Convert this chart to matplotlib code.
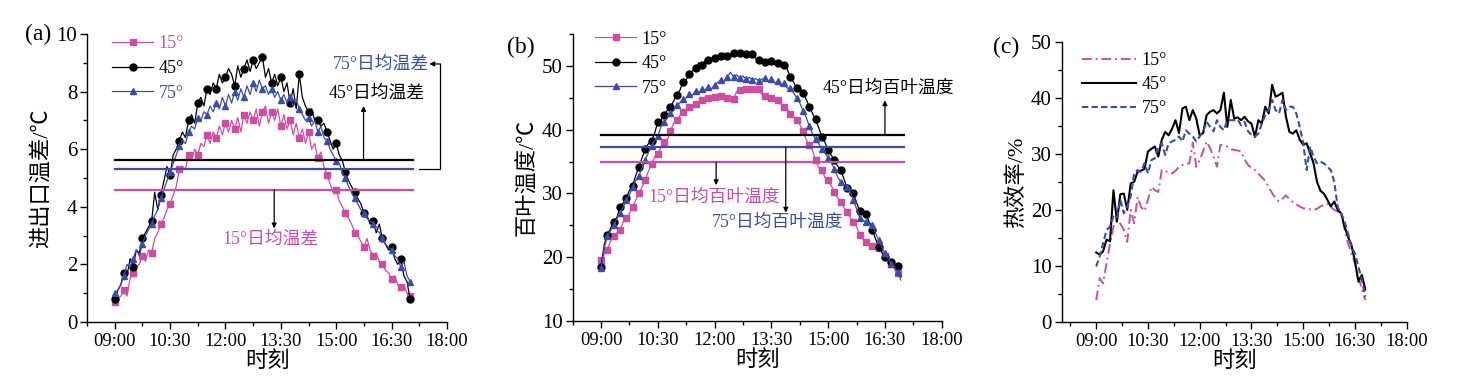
import numpy as np
import matplotlib.pyplot as plt
from matplotlib.lines import Line2D

plt.rcParams['font.family'] = ['Liberation Serif', 'Noto Sans CJK SC']
plt.rcParams['axes.unicode_minus'] = False

pink = '#CF4DA0'
blue = '#3A4BB0'
black = 'black'

# ---- (a) inlet/outlet temperature difference, every 5 min from 09:00 ----
min_a = np.arange(0, 485, 5)
dt_15 = [0.7, 0.8, 0.9, 1.1, 0.9, 1.5, 1.7, 1.9, 2.0, 2.3, 2.1, 2.5, 2.4, 2.9, 3.1, 3.4,
         3.6, 3.9, 4.1, 4.4, 4.7, 5.3, 5.4, 5.3, 5.8, 5.6, 6.0, 5.8, 6.2, 6.1, 6.5, 6.2,
         6.6, 6.4, 6.8, 6.5, 6.9, 6.6, 7.0, 6.7, 7.1, 6.6, 7.2, 6.9, 7.3, 7.0, 7.4, 6.8,
         7.3, 7.5, 6.9, 7.3, 7.0, 7.4, 6.8, 7.2, 6.7, 7.0, 6.5, 6.9, 6.4, 6.7, 6.2, 6.6,
         6.0, 6.2, 5.7, 5.9, 5.4, 5.1, 4.8, 4.5, 4.6, 4.2, 4.0, 3.8, 3.6, 3.4, 3.1, 3.0,
         2.8, 2.6, 2.9, 2.5, 2.3, 2.4, 2.1, 2.0, 1.8, 1.7, 1.5, 1.6, 1.3, 1.2, 1.3, 1.0, 0.9]
dt_45 = [0.8, 1.1, 1.3, 1.7, 1.6, 2.2, 1.9, 2.5, 2.4, 2.9, 3.1, 3.3, 3.5, 4.5, 3.9, 4.4,
         4.9, 5.4, 5.1, 5.8, 6.0, 6.3, 6.6, 6.4, 7.0, 7.2, 6.9, 7.6, 7.8, 7.5, 8.1, 7.9,
         8.3, 8.1, 8.6, 8.3, 8.5, 8.8, 8.6, 8.2, 8.9, 8.5, 8.8, 9.1, 8.7, 9.1, 8.8, 9.0,
         9.2, 8.5, 8.8, 8.3, 8.6, 8.2, 8.5, 8.0, 8.3, 7.6, 8.1, 7.4, 8.6, 7.8, 7.5, 7.3,
         7.4, 7.0, 7.0, 6.8, 6.9, 6.6, 6.3, 6.0, 6.2, 5.8, 5.6, 5.2, 4.9, 4.7, 4.5, 4.3,
         4.1, 3.8, 3.7, 3.4, 3.5, 3.1, 3.4, 2.9, 2.7, 2.5, 2.6, 2.2, 2.0, 2.2, 1.6, 1.4, 0.8]
dt_75 = [1.0, 1.1, 1.3, 1.6, 2.0, 1.9, 2.2, 2.5, 2.3, 2.7, 3.0, 3.2, 3.4, 3.7, 3.9, 4.3,
         4.6, 4.9, 5.2, 5.5, 5.8, 6.1, 6.3, 6.2, 6.6, 6.8, 6.7, 7.1, 7.0, 7.3, 7.2, 7.5,
         7.3, 7.6, 7.4, 7.8, 7.5, 7.9, 7.6, 8.0, 7.7, 8.1, 7.8, 8.2, 7.9, 8.3, 8.0, 8.4,
         8.1, 8.2, 7.9, 8.1, 7.8, 8.0, 7.7, 7.9, 7.6, 7.8, 7.5, 7.7, 7.4, 7.2, 7.0, 7.1,
         6.8, 7.0, 6.6, 6.8, 6.4, 6.3, 6.0, 5.8, 5.6, 5.5, 5.2, 5.0, 4.7, 4.5, 4.3, 4.1,
         3.9, 3.8, 3.6, 3.5, 3.4, 3.2, 3.1, 2.9, 2.7, 2.6, 2.5, 2.3, 2.2, 1.9, 2.1, 1.6, 1.4]
avg_dt = {'15°': 4.59, '45°': 5.63, '75°': 5.31}

# ---- (b) louver temperature, every 5 min from 09:00 ----
min_b = np.arange(0, 480, 5)
tl_15 = [19.5, 20.5, 21.2, 22.5, 23.4, 23.8, 24.3, 25.5, 26.2, 26.9, 27.8, 29.0, 30.0, 31.0,
         32.1, 33.5, 34.6, 35.7, 36.2, 37.2, 38.0, 38.4, 39.8, 41.0, 41.5, 42.2, 42.8, 43.2,
         43.6, 43.8, 44.1, 44.3, 44.6, 44.5, 44.9, 45.0, 45.2, 45.4, 45.3, 45.4, 45.0, 44.9,
         44.8, 46.0, 46.2, 46.1, 46.3, 46.2, 46.4, 46.5, 46.3, 45.5, 45.3, 45.0, 44.9, 44.8,
         44.6, 44.0, 43.6, 43.3, 42.5, 42.0, 41.5, 40.8, 39.8, 38.5, 37.6, 36.8, 35.2, 34.0,
         33.7, 32.5, 32.1, 31.2, 30.2, 29.3, 28.7, 27.8, 27.1, 26.2, 25.6, 24.8, 23.5, 22.9,
         22.4, 22.0, 21.8, 21.6, 21.4, 20.7, 20.2, 19.6, 19.0, 18.2, 17.5, 16.4]
tl_45 = [18.5, 22.0, 23.5, 24.5, 25.6, 26.2, 27.9, 28.5, 29.3, 30.5, 31.2, 32.8, 34.2, 35.6,
         37.0, 37.8, 38.2, 39.5, 41.2, 41.5, 42.3, 43.0, 43.5, 44.5, 45.5, 46.2, 47.5, 47.8,
         48.8, 49.2, 49.7, 50.5, 50.2, 50.8, 51.0, 50.9, 51.2, 51.5, 51.6, 52.0, 51.5, 51.8,
         52.0, 51.7, 52.0, 51.9, 51.9, 51.6, 51.8, 51.2, 50.9, 51.0, 50.6, 50.4, 50.7, 50.2,
         50.5, 50.4, 50.2, 49.5, 48.2, 47.5, 46.5, 46.1, 45.8, 44.8, 43.6, 42.6, 41.6, 40.3,
         38.9, 38.0, 36.8, 36.0, 35.2, 34.3, 33.7, 32.3, 30.8, 30.4, 30.0, 28.6, 27.2, 26.9,
         26.8, 25.5, 24.3, 22.9, 21.6, 20.8, 20.1, 19.6, 19.2, 18.8, 18.6, 16.9]
tl_75 = [18.3, 21.5, 23.3, 24.2, 25.0, 26.0, 26.9, 27.8, 29.0, 29.8, 31.0, 32.0, 32.8, 34.0,
         35.3, 36.4, 37.5, 38.3, 39.0, 40.5, 41.2, 41.8, 42.6, 43.0, 43.8, 44.2, 44.8, 45.0,
         45.6, 45.4, 46.1, 45.8, 46.4, 46.2, 46.7, 46.4, 47.0, 47.4, 47.8, 47.5, 48.2, 49.0,
         48.3, 48.6, 48.1, 48.4, 47.9, 48.2, 47.8, 48.0, 47.7, 47.9, 48.1, 47.6, 47.9, 47.3,
         47.6, 46.8, 47.3, 46.5, 46.5, 45.8, 45.0, 44.2, 43.0, 42.0, 40.6, 39.4, 38.5, 37.8,
         37.0, 36.3, 35.6, 34.8, 33.8, 32.6, 31.8, 31.4, 31.0, 30.2, 29.0, 27.6, 26.2, 25.8,
         25.5, 25.4, 25.1, 23.8, 22.7, 21.6, 20.6, 19.8, 19.0, 18.4, 17.7, 16.8]
avg_tl = {'15°': 34.87, '45°': 39.1, '75°': 37.27}

# ---- (c) thermal efficiency, every 6 min from 09:00 ----
min_c = np.arange(0, 474, 6)
eff_15 = [3.9, 7.8, 6.9, 10.5, 14.0, 17.0, 18.2, 17.5, 16.5, 14.3, 20.0, 17.6, 22.3, 20.5,
          19.8, 21.8, 24.1, 23.5, 23.2, 27.1, 26.9, 26.7, 26.5, 27.0, 27.7, 28.0, 28.2, 28.3,
          32.0, 27.7, 28.9, 30.5, 32.2, 31.0, 29.5, 27.7, 31.6, 31.4, 31.3, 30.8, 30.7, 30.6,
          30.4, 29.0, 28.0, 27.5, 27.1, 26.5, 25.8, 25.2, 24.0, 23.0, 22.0, 21.5, 22.0, 22.6,
          21.9, 21.4, 21.0, 20.6, 20.3, 20.2, 20.1, 20.0, 20.2, 20.6, 20.9, 21.1, 20.5, 20.0,
          19.7, 19.4, 16.5, 14.0, 12.2, 10.5, 8.0, 5.9, 3.9]
eff_45 = [12.4, 12.0, 12.6, 14.7, 14.4, 23.5, 17.9, 22.8, 22.9, 20.0, 24.7, 25.0, 26.8, 27.0,
          27.3, 30.4, 30.9, 31.3, 29.5, 32.5, 33.9, 33.3, 34.5, 36.0, 33.7, 38.1, 38.4, 36.0,
          37.8, 36.3, 33.3, 33.7, 36.9, 37.5, 37.8, 37.2, 37.8, 40.9, 34.8, 39.6, 36.3, 36.5,
          36.0, 36.6, 35.8, 35.4, 33.0, 36.0, 35.4, 38.4, 37.2, 42.3, 40.2, 40.5, 40.9, 36.6,
          33.9, 33.6, 34.2, 32.5, 31.6, 31.9, 30.1, 28.3, 25.0, 23.4, 22.9, 21.8, 20.6, 21.5,
          20.0, 19.4, 17.0, 15.2, 13.7, 10.8, 7.2, 8.4, 5.8]
eff_75 = [9.9, 11.7, 14.0, 16.4, 17.0, 18.8, 18.5, 21.8, 19.4, 20.6, 22.4, 26.5, 27.1, 26.8,
          28.3, 26.5, 28.9, 29.2, 31.3, 31.9, 29.8, 31.9, 32.2, 32.5, 33.1, 32.2, 34.2, 33.6,
          33.1, 32.2, 33.1, 34.0, 35.7, 34.8, 34.0, 36.0, 34.8, 34.2, 36.0, 36.0, 36.0, 36.1,
          35.1, 35.7, 34.0, 33.4, 33.1, 33.6, 35.4, 36.9, 37.8, 39.6, 37.8, 37.2, 39.6, 37.8,
          38.4, 38.4, 37.2, 34.8, 31.9, 27.1, 31.3, 29.5, 28.3, 28.6, 28.3, 27.7, 27.1, 25.0,
          20.5, 19.4, 17.9, 15.8, 13.4, 12.2, 9.9, 7.5, 4.5]

xticks = [9, 10.5, 12, 13.5, 15, 16.5, 18]
xticklabels = ['09:00', '10:30', '12:00', '13:30', '15:00', '16:30', '18:00']

fig = plt.figure(figsize=(14.58, 3.85), dpi=100)
W, H = 1458, 385


def make_ax(left, top, right, bottom):
    return fig.add_axes([left / W, 1 - bottom / H, (right - left) / W, (bottom - top) / H])


def style(ax, xmin, ylim, ymajor, yminor):
    for s in ['top', 'right']:
        ax.spines[s].set_visible(False)
    for s in ['left', 'bottom']:
        ax.spines[s].set_linewidth(1.0)
    ax.set_xlim(xmin, 18)
    ax.set_ylim(*ylim)
    ax.set_xticks(xticks)
    ax.set_xticklabels(xticklabels)
    ax.set_xticks(np.arange(8.25, 18, 1.5), minor=True)
    ax.set_yticks(np.arange(ylim[0], ylim[1] + 0.01, ymajor))
    ax.set_yticks(np.arange(ylim[0], ylim[1] + 0.01, yminor), minor=True)
    ax.tick_params(which='major', direction='out', length=5, width=1.0)
    ax.tick_params(which='minor', direction='out', length=3, width=1.0)
    ax.tick_params(axis='x', labelsize=13.3, pad=3)
    ax.tick_params(axis='y', labelsize=15, pad=2)
    ax.set_xlabel('时刻', fontsize=16, labelpad=1)


def arrow(ax, tail, head):
    ax.annotate('', xy=head, xytext=tail,
                arrowprops=dict(arrowstyle='-|>', color='black', lw=0.9,
                                mutation_scale=7, shrinkA=0, shrinkB=0))


# ---------------- panel (a) ----------------
ax1 = make_ax(87, 34, 447, 322)
ha = 9 + min_a / 60
ax1.plot(ha, dt_15, color=pink, lw=0.9, marker='s', ms=4.5, markevery=3)
ax1.plot(ha, dt_45, color=black, lw=0.9, marker='o', ms=5, markevery=3)
ax1.plot(ha, dt_75, color=blue, lw=0.9, marker='^', ms=5, markevery=3)
for k, c in zip(['45°', '75°', '15°'], [black, blue, pink]):
    ax1.plot([9, 17.07], [avg_dt[k]] * 2, color=c, lw=1.6)
style(ax1, 8.25, (0, 10), 2, 1)
ax1.set_ylabel('进出口温差/℃', fontsize=16, labelpad=3)

ax1.text(17.5, 8.96, '75°日均温差', color=blue, fontsize=12.8, ha='right', va='center')
ax1.plot([17.23, 17.82, 17.82], [5.31, 5.31, 8.96], color='black', lw=0.9)
arrow(ax1, (17.82, 8.96), (17.52, 8.96))
ax1.text(16.1, 7.94, '45°日均温差', color='black', fontsize=12.8, ha='center', va='center')
arrow(ax1, (15.74, 5.63), (15.74, 7.5))
ax1.text(13.22, 2.88, '15°日均温差', color=pink, fontsize=12.8, ha='center', va='center')
arrow(ax1, (13.32, 4.59), (13.32, 3.25))

h_a = [Line2D([], [], color=pink, lw=0.9, marker='s', ms=4.5),
       Line2D([], [], color=black, lw=0.9, marker='o', ms=5),
       Line2D([], [], color=blue, lw=0.9, marker='^', ms=5)]
leg = ax1.legend(h_a, ['15°', '45°', '75°'], loc='upper left', bbox_to_anchor=(0.069, 0.995),
                 frameon=False, fontsize=13, handlelength=2.3, handletextpad=0.3,
                 labelspacing=0.42, borderpad=0, borderaxespad=0)
for t, c in zip(leg.get_texts(), [pink, black, blue]):
    t.set_color(c)

# ---------------- panel (b) ----------------
ax2 = make_ax(572.7, 34, 941.7, 321)
hb = 9 + min_b / 60
ax2.plot(hb, tl_15, color=pink, lw=0.9, marker='s', ms=4.5, markevery=2)
ax2.plot(hb, tl_45, color=black, lw=0.9, marker='o', ms=5, markevery=2)
ax2.plot(hb, tl_75, color=blue, lw=0.9, marker='^', ms=5, markevery=2)
for k, c in zip(['45°', '75°', '15°'], [black, blue, pink]):
    ax2.plot([9, 17.0], [avg_tl[k]] * 2, color=c, lw=1.6)
style(ax2, 8.25, (10, 55), 10, 5)
ax2.set_yticks(np.arange(10, 51, 10))
ax2.set_ylabel('百叶温度/℃', fontsize=16, labelpad=3)

ax2.text(16.6, 46.5, '45°日均百叶温度', color='black', fontsize=12.8, ha='center', va='center')
arrow(ax2, (16.5, 39.1), (16.5, 44.6))
ax2.text(12.0, 29.4, '15°日均百叶温度', color=pink, fontsize=12.8, ha='center', va='center')
arrow(ax2, (12.04, 34.87), (12.04, 31.3))
ax2.text(13.66, 25.5, '75°日均百叶温度', color=blue, fontsize=12.8, ha='center', va='center')
arrow(ax2, (13.88, 37.27), (13.88, 27.0))

ax2.legend(h_a, ['15°', '45°', '75°'], loc='upper left', bbox_to_anchor=(0.06, 1.012),
           frameon=False, fontsize=13, handlelength=2.3, handletextpad=0.3,
           labelspacing=0.42, borderpad=0, borderaxespad=0)

# ---------------- panel (c) ----------------
ax3 = make_ax(1061.7, 41.7, 1406.7, 322)
hc = 9 + min_c / 60
l15, = ax3.plot(hc, eff_15, color=pink, lw=1.4, ls=(0, (5, 2, 1, 2)))
l45, = ax3.plot(hc, eff_45, color=black, lw=1.5)
l75, = ax3.plot(hc, eff_75, color=blue, lw=1.5, ls=(0, (3, 1.6)))
style(ax3, 8.0, (0, 50), 10, 5)
ax3.set_ylabel('热效率/%', fontsize=16, labelpad=3)
ax3.legend([l15, l45, l75], ['15°', '45°', '75°'], loc='upper left',
           bbox_to_anchor=(0.059, 0.962), frameon=False, fontsize=13, handlelength=3.0,
           handletextpad=0.3, labelspacing=0.38, borderpad=0, borderaxespad=0)

fig.text(25 / W, 1 - 34 / H, '(a)', fontsize=17, va='center', ha='left')
fig.text(507 / W, 1 - 47 / H, '(b)', fontsize=17, va='center', ha='left')
fig.text(993 / W, 1 - 47 / H, '(c)', fontsize=17, va='center', ha='left')

fig.savefig('out.png', dpi=100)
